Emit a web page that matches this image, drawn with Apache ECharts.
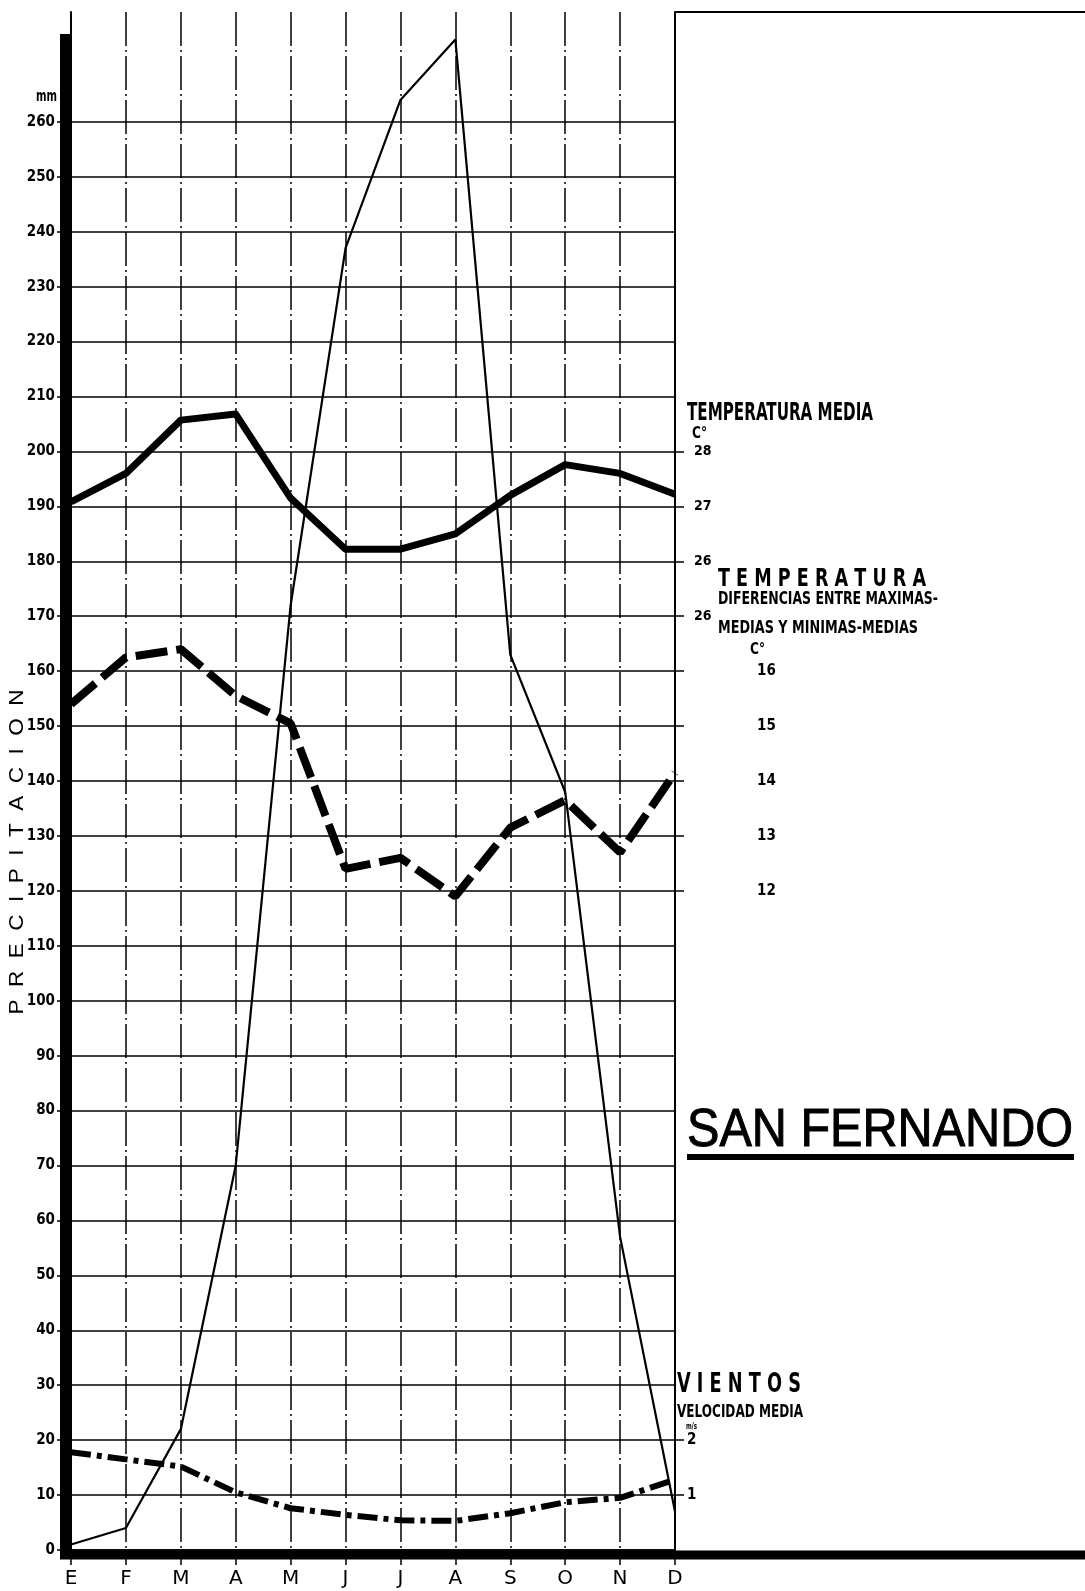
<!DOCTYPE html>
<html>
<head>
<meta charset="utf-8">
<script src="https://cdn.jsdelivr.net/npm/echarts@6/dist/echarts.min.js"></script>
<style>
  html, body { margin: 0; padding: 0; background: #fff; }
  #chart { width: 1085px; height: 1591px; }
</style>
</head>
<body>
<div id="chart"></div>
<script>
// meses
const months = ['E', 'F', 'M', 'A', 'M', 'J', 'J', 'A', 'S', 'O', 'N', 'D'];

// precipitacion, mm
const precipitacion = [1, 4, 22, 70, 172, 237, 264, 275, 163, 138, 57, 7];
// temperatura media, C
const tempMedia = [27.08, 27.6, 28.57, 28.68, 27.15, 26.22, 26.22, 26.5, 27.2, 27.76, 27.6, 27.22];
// diferencias entre maximas-medias y minimas-medias, C
const tempDiferencia = [15.4, 16.25, 16.4, 15.55, 15.05, 12.4, 12.6, 11.9, 13.15, 13.65, 12.7, 14.15];
// vientos, velocidad media m/s
const vientos = [1.78, 1.65, 1.52, 1.05, 0.76, 0.64, 0.54, 0.53, 0.67, 0.87, 0.95, 1.28];

// tick labels
const precipLabels = [0, 10, 20, 30, 40, 50, 60, 70, 80, 90, 100, 110, 120, 130,
  140, 150, 160, 170, 180, 190, 200, 210, 220, 230, 240, 250, 260];
const tempTicks = [28, 27, 26, 25];
const tempTickText = ['28', '27', '26', '26'];
const diffTicks = [16, 15, 14, 13, 12];
const windTicks = [2, 1];
const rightTickMarks = [1, 2, 12, 13, 14, 15, 16, 17, 18, 19, 20];

const narrow = "'Liberation Sans Narrow', 'DejaVu Sans Condensed', sans-serif";
const sans = "'Liberation Sans', Arial, sans-serif";

const chart = echarts.init(document.getElementById('chart'));

const option = {
  animation: false,
  backgroundColor: '#fff',
  grid: { left: 71, right: 410, top: 12, bottom: 41 },
  xAxis: {
    type: 'category',
    data: months,
    boundaryGap: false,
    axisLine: { lineStyle: { color: '#000', width: 1.6 } },
    axisTick: { show: true, length: 15, lineStyle: { color: '#000', width: 1.5 } },
    axisLabel: { color: '#000', fontFamily: "'DejaVu Sans', sans-serif", fontSize: 20, margin: 19 },
    splitLine: { show: true, lineStyle: { color: '#000', width: 1.5, type: [34, 4, 2, 4] } }
  },
  yAxis: [
    {
      type: 'value', min: 0, max: 280, interval: 10,
      axisLine: { show: true, lineStyle: { color: '#000', width: 2 } },
      axisTick: { show: true, customValues: precipLabels, length: 14, lineStyle: { color: '#000', width: 1.5 } },
      axisLabel: {
        customValues: precipLabels, margin: 16, color: '#000',
        fontFamily: narrow, fontWeight: 'bold', fontSize: 15
      },
      splitLine: { show: true, lineStyle: { color: '#000', width: 1.6 } }
    },
    {
      type: 'value', min: 8, max: 36, interval: 1, position: 'right',
      axisLine: { show: true, lineStyle: { color: '#000', width: 2 } },
      axisTick: { show: false },
      axisLabel: {
        customValues: tempTicks, margin: 19, color: '#000',
        fontFamily: narrow, fontWeight: 'bold', fontSize: 14,
        formatter: v => tempTickText[tempTicks.indexOf(v)]
      },
      splitLine: { show: false }
    },
    {
      type: 'value', min: 0, max: 28, interval: 1, position: 'right', offset: 80,
      axisLine: { show: false },
      axisTick: { show: false },
      axisLabel: {
        customValues: diffTicks, margin: 2, color: '#000',
        fontFamily: narrow, fontWeight: 'bold', fontSize: 15
      },
      splitLine: { show: false }
    },
    {
      type: 'value', min: 0, max: 28, interval: 1, position: 'right',
      axisLine: { show: false },
      axisTick: { show: true, customValues: rightTickMarks, length: 9, lineStyle: { color: '#000', width: 1.5 } },
      axisLabel: {
        customValues: windTicks, margin: 12, color: '#000',
        fontFamily: narrow, fontWeight: 'bold', fontSize: 15
      },
      splitLine: { show: false }
    }
  ],
  series: [
    {
      name: 'Precipitacion', type: 'line', yAxisIndex: 0, data: precipitacion,
      showSymbol: false, lineStyle: { color: '#000', width: 2.2 }
    },
    {
      name: 'Temperatura media', type: 'line', yAxisIndex: 1, data: tempMedia,
      showSymbol: false, lineStyle: { color: '#000', width: 7, join: 'round' }
    },
    {
      name: 'Temperatura diferencias', type: 'line', yAxisIndex: 2, data: tempDiferencia,
      showSymbol: false, lineStyle: { color: '#000', width: 8, type: [32, 9] }
    },
    {
      name: 'Vientos', type: 'line', yAxisIndex: 3, data: vientos,
      showSymbol: false, lineStyle: { color: '#000', width: 6, type: [20, 6, 5, 6] }
    }
  ]
};

chart.setOption(option);

// textos -- ajusta el ancho con scaleX
const ctx = document.createElement('canvas').getContext('2d');
function fitText(text, x, yMid, capH, width, family, weight, rotation, stroke) {
  const size = Math.round(capH / 0.72);
  const font = (weight || 'normal') + ' ' + size + 'px ' + family;
  ctx.font = font;
  const w = ctx.measureText(text).width;
  const style = {
    text: text, font: font, fill: '#000',
    align: rotation ? 'center' : 'left', verticalAlign: 'middle'
  };
  if (stroke) {
    style.stroke = '#000';
    style.lineWidth = stroke;
  }
  return {
    type: 'text', x: x, y: yMid, rotation: rotation || 0,
    scaleX: width / w,
    style: style,
    z: 100
  };
}

const px = (val, idx) => chart.convertToPixel({ yAxisIndex: idx }, val);
const xLeft = chart.convertToPixel({ xAxisIndex: 0 }, 0);
const xRight = chart.convertToPixel({ xAxisIndex: 0 }, 11);
const y0 = px(0, 0);
const yTop = px(280, 0);

chart.setOption({
  graphic: [
    // barra gruesa izquierda
    { type: 'line', shape: { x1: xLeft - 6, y1: px(276, 0), x2: xLeft - 6, y2: y0 + 9 },
      style: { stroke: '#000', lineWidth: 10 }, z: 90 },
    // barra gruesa inferior
    { type: 'line', shape: { x1: xLeft - 11, y1: y0 + 5, x2: 1085, y2: y0 + 5 },
      style: { stroke: '#000', lineWidth: 9 }, z: 90 },
    // linea superior
    { type: 'line', shape: { x1: xRight, y1: yTop, x2: 1085, y2: yTop },
      style: { stroke: '#000', lineWidth: 2 }, z: 90 },

    fitText('mm', 36, 97, 10.5, 21, narrow, 'bold'),
    fitText('P  R  E  C  I  P  I  T  A  C  I  O  N', 17, 852, 15, 325, sans, 'normal', Math.PI / 2),

    fitText('TEMPERATURA MEDIA', 687, 414, 17, 186, narrow, 'bold'),
    fitText('C°', 692, 434, 11, 15, narrow, 'bold'),
    fitText('T E M P E R A T U R A', 718, 579, 18, 208, narrow, 'bold'),
    fitText('DIFERENCIAS ENTRE MAXIMAS-', 718, 600, 12, 220, narrow, 'bold'),
    fitText('MEDIAS Y MINIMAS-MEDIAS', 718, 628, 13, 200, narrow, 'bold'),
    fitText('C°', 750, 650, 11, 15, narrow, 'bold'),

    fitText('SAN FERNANDO', 687, 1131, 38, 386, sans, 'normal', 0, 1),
    { type: 'rect', shape: { x: 687, y: 1154, width: 387, height: 6 }, style: { fill: '#000' } },

    fitText('V I E N T O S', 677, 1385, 19, 124, narrow, 'bold'),
    fitText('VELOCIDAD MEDIA', 677, 1412, 13, 126, narrow, 'bold'),
    fitText('m/s', 686, 1427, 6, 11, narrow, 'bold')
  ]
});
</script>
</body>
</html>
